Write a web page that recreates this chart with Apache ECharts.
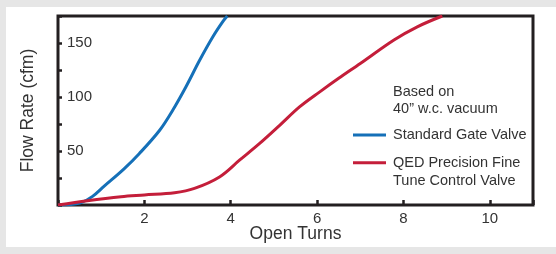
<!DOCTYPE html>
<html>
<head>
<meta charset="utf-8">
<script src="https://cdn.jsdelivr.net/npm/echarts@6/dist/echarts.min.js"></script>
<style>
  html, body { margin: 0; padding: 0; background: #e6e6e6; }
  #wrap { position: absolute; left: 6px; top: 7px; width: 550px; height: 240px; background: #fff; }
  #chart { position: absolute; left: 0; top: 0; width: 556px; height: 254px; }
</style>
</head>
<body>
<div id="wrap"></div>
<div id="chart"></div>
<script>
// open turns vs flow rate (cfm)
const gateValve = [
  [0, 0], [0.3, 0.5], [0.55, 2.5], [0.8, 8], [1.07, 17.5], [1.53, 33.5], [1.88, 47.5],
  [2.35, 69], [2.66, 88], [2.97, 110], [3.28, 134], [3.59, 156], [3.82, 170], [3.92, 175]
]
const qedValve = [
  [0, 0], [0.68, 4], [1.46, 7.7], [2.0, 9.3], [2.7, 11.4], [3.16, 15.4], [3.74, 26],
  [4.21, 41.7], [4.67, 57], [5.14, 74], [5.6, 91], [6.07, 105], [6.5, 117.3],
  [7.0, 131], [7.78, 152.8], [8.32, 165], [8.9, 175]
]
const yLabels = [50, 100, 150]
const xLabels = [2, 4, 6, 8, 10]
const seriesNames = ["Standard Gate Valve", "QED Precision Fine\nTune Control Valve"]
const note = "Based on\n40\u201D w.c. vacuum"

const font = "'Liberation Sans', Arial, sans-serif"
const ink = "#333"

const chart = echarts.init(document.getElementById("chart"))

chart.setOption({
  animation: false,
  title: {
    text: note,
    left: 393,
    top: 83,
    padding: 0,
    textStyle: { fontFamily: font, fontSize: 14.5, fontWeight: "normal", color: ink, lineHeight: 17 }
  },
  legend: [
    {
      data: [seriesNames[0]],
      left: 353,
      top: 126,
      padding: 0,
      icon: "rect",
      itemWidth: 33,
      itemHeight: 3,
      textStyle: { fontFamily: font, fontSize: 14.5, color: ink, lineHeight: 18, padding: [0, 0, 0, 2] }
    },
    {
      // leading blank line keeps the swatch level with the first text line
      data: [seriesNames[1]],
      formatter: (name) => "\n" + name,
      left: 353,
      top: 135,
      padding: 0,
      icon: "rect",
      itemWidth: 33,
      itemHeight: 3,
      textStyle: { fontFamily: font, fontSize: 14.5, color: ink, lineHeight: 18.5, padding: [0, 0, 0, 2] }
    }
  ],
  grid: {
    left: 58, right: 23, top: 16, bottom: 49,
    show: true, borderColor: "#231f20", borderWidth: 3, backgroundColor: "transparent"
  },
  xAxis: {
    type: "value",
    min: 0, max: 11, interval: 2,
    name: "Open Turns",
    nameLocation: "middle",
    nameGap: 20,
    nameMoveOverlap: false,
    nameTextStyle: { fontFamily: font, fontSize: 17.5, color: ink },
    axisLine: { show: false },
    axisTick: { show: true, inside: true, length: 5, lineStyle: { color: "#231f20", width: 2.5 } },
    axisLabel: {
      fontFamily: font, fontSize: 15, color: ink, margin: 6,
      formatter: (v) => (xLabels.includes(v) ? v : "")
    },
    splitLine: { show: false }
  },
  yAxis: {
    type: "value",
    min: 0, max: 175, interval: 25,
    name: "Flow Rate (cfm)",
    nameLocation: "middle",
    nameRotate: 90,
    nameGap: 21,
    nameMoveOverlap: false,
    nameTextStyle: { fontFamily: font, fontSize: 17.5, color: ink },
    axisLine: { show: false },
    axisTick: { show: true, inside: true, length: 4, lineStyle: { color: "#231f20", width: 2.5 } },
    axisLabel: {
      inside: true, fontFamily: font, fontSize: 15, color: ink, margin: 9,
      formatter: (v) => (yLabels.includes(v) ? v : "")
    },
    splitLine: { show: false }
  },
  series: [
    {
      name: seriesNames[0],
      type: "line",
      data: gateValve,
      smooth: 0.35,
      symbol: "none",
      color: "#1570b8",
      lineStyle: { width: 3, color: "#1570b8" }
    },
    {
      name: seriesNames[1],
      type: "line",
      data: qedValve,
      smooth: 0.35,
      symbol: "none",
      color: "#c41e3a",
      lineStyle: { width: 3, color: "#c41e3a" }
    }
  ]
})
</script>
</body>
</html>
